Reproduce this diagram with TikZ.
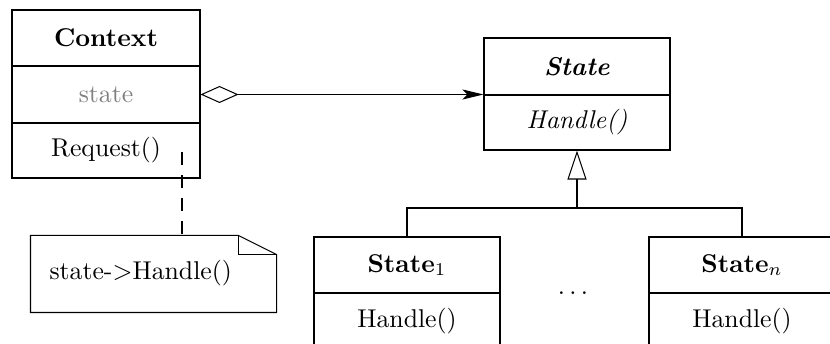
\documentclass[tikz,border=0pt]{standalone}
\usetikzlibrary{arrows.meta}
\newcommand\pxu{0.3887pt}
\begin{document}
\begin{tikzpicture}[x=0.3887pt,y=-0.3887pt,
  comp/.style={draw, rectangle, inner sep=0pt, line width=0.4pt},
  aggr/.style={{Diamond[open,length=38*\pxu,width=17*\pxu]}-{Stealth[length=21*\pxu,width=10*\pxu,inset=5*\pxu]}},
  inherit/.style={-{Triangle[open,length=29*\pxu,width=19*\pxu]}},
  notedash/.style={dash pattern=on 13*\pxu off 10*\pxu}]
\useasboundingbox (0,0) rectangle (830,344);
% Context
\node[comp, minimum width=188*\pxu, minimum height=56*\pxu] (ctxname) at (106,38) {\textbf{Context}};
\node[comp, minimum width=188*\pxu, minimum height=57*\pxu] (ctxattr) at (106,94.5) {\textcolor{black!50}{state}};
\node[comp, minimum width=188*\pxu, minimum height=55*\pxu] (ctxop) at (106,150.5) {Request()};
% State
\node[comp, minimum width=186*\pxu, minimum height=57*\pxu] (stname) at (577,66.5) {\textbf{\itshape State}};
\node[comp, minimum width=186*\pxu, minimum height=55*\pxu] (stop) at (577,122.5) {\textit{Handle()}};
% State_1
\node[comp, minimum width=186*\pxu, minimum height=56*\pxu] (sonename) at (407,265) {\textbf{State}$_1$};
\node[comp, minimum width=186*\pxu, minimum height=57*\pxu] (soneop) at (407,321.5) {Handle()};
% State_n
\node[comp, minimum width=186*\pxu, minimum height=56*\pxu] (snname) at (742,265) {\textbf{State}$_n$};
\node[comp, minimum width=186*\pxu, minimum height=57*\pxu] (snop) at (742,321.5) {Handle()};
% dots
\node[inner sep=0pt] (dots) at (573,293) {$\ldots$};
% aggregation
\draw[aggr] (ctxattr.east) -- (ctxattr.east -| stname.west);
% inheritance
\coordinate (junc) at (577,208);
\draw (sonename.north) |- (junc) -| (snname.north);
\draw[inherit] (junc) -- (stop.south);
% note
\node[inner sep=0pt, minimum width=245*\pxu, minimum height=76*\pxu] (note) at (153.5,274) {};
\node[anchor=west, inner sep=0pt] (notetext) at (49,273) {state->Handle()};
\draw (note.north west) -- ([xshift=-38*\pxu]note.north east) -- ([yshift=-19*\pxu]note.north east)
      -- (note.south east) -- (note.south west) -- cycle;
\draw ([xshift=-38*\pxu]note.north east) |- ([yshift=-19*\pxu]note.north east);
\coordinate (dstart) at (182,152);
\draw[notedash] (dstart) -- (dstart |- note.north);
\end{tikzpicture}
\end{document}
